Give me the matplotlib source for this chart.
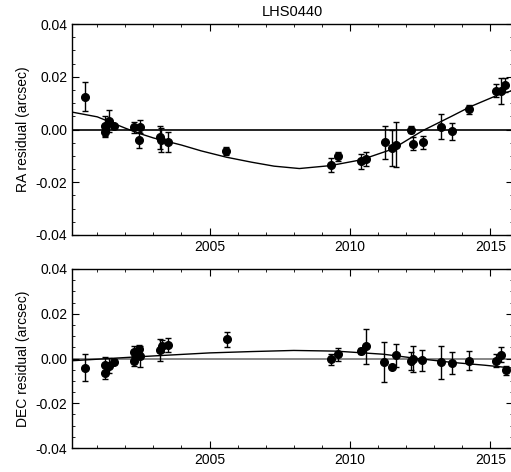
import numpy as np
import matplotlib
matplotlib.use('Agg')
import matplotlib.pyplot as plt
from matplotlib.ticker import MultipleLocator

plt.rcParams['font.family'] = ['Liberation Sans', 'DejaVu Sans']

#epochs and RA residuals (arcsec)
ra_year = [2000.57, 2001.26, 2001.26, 2001.43, 2001.60, 2002.30, 2002.48, 2002.54,
           2003.25, 2003.27, 2003.53, 2005.60, 2009.31, 2009.57, 2010.38, 2010.59,
           2011.24, 2011.50, 2011.63, 2012.19, 2012.25, 2012.59, 2013.26, 2013.63,
           2014.25, 2015.20, 2015.38, 2015.54]
ra_res = [0.0125, 0.0014, -0.0008, 0.0033, 0.0014, 0.0008, -0.0040, 0.0011,
          -0.0030, -0.0039, -0.0049, -0.0081, -0.0135, -0.0101, -0.0121, -0.0111,
          -0.0049, -0.0071, -0.0058, 0.0000, -0.0054, -0.0049, 0.0011, -0.0006,
          0.0077, 0.0147, 0.0147, 0.0170]
ra_err = [0.0055, 0.0037, 0.0020, 0.0042, 0.0008, 0.0022, 0.0030, 0.0025,
          0.0045, 0.0045, 0.0038, 0.0015, 0.0026, 0.0017, 0.0027, 0.0027,
          0.0062, 0.0068, 0.0086, 0.0015, 0.0025, 0.0024, 0.0048, 0.0032,
          0.0017, 0.0024, 0.0049, 0.0027]

#epochs and DEC residuals (arcsec)
dec_year = [2000.57, 2001.26, 2001.26, 2001.43, 2001.60, 2002.30, 2002.30, 2002.48,
            2002.54, 2003.25, 2003.29, 2003.53, 2005.63, 2009.31, 2009.57, 2010.38,
            2010.57, 2011.23, 2011.50, 2011.63, 2012.18, 2012.25, 2012.57, 2013.26,
            2013.63, 2014.25, 2015.19, 2015.37, 2015.56]
dec_res = [-0.0042, -0.0028, -0.0063, -0.0032, -0.0014, 0.0031, -0.0011, 0.0044,
           0.0010, 0.0038, 0.0056, 0.0060, 0.0086, -0.0004, 0.0019, 0.0033,
           0.0054, -0.0017, -0.0036, 0.0014, -0.0011, -0.0001, -0.0007, -0.0017,
           -0.0020, -0.0009, -0.0009, 0.0017, -0.0053]
dec_err = [0.0060, 0.0035, 0.0030, 0.0035, 0.0010, 0.0025, 0.0022, 0.0017,
           0.0047, 0.0050, 0.0025, 0.0031, 0.0033, 0.0026, 0.0029, 0.0014,
           0.0079, 0.0090, 0.0008, 0.0051, 0.0040, 0.0059, 0.0047, 0.0074,
           0.0048, 0.0042, 0.0030, 0.0033, 0.0020]

#model curves
ra_curve_year = [2000.1, 2001.0, 2002.0, 2002.5, 2003.0, 2004.0, 2004.7, 2005.6,
                 2006.5, 2007.3, 2008.2, 2009.3, 2010.4, 2011.5, 2012.6, 2013.6,
                 2014.3, 2015.3, 2015.8]
ra_curve = [0.0066, 0.0048, 0.0005, -0.0015, -0.0032, -0.0059, -0.0081, -0.0105,
            -0.0124, -0.0139, -0.0148, -0.0137, -0.0115, -0.0075, -0.0004, 0.0049,
            0.0087, 0.0132, 0.0148]
dec_curve_year = [2000.1, 2002.5, 2005.0, 2006.5, 2008.0, 2009.5, 2011.2, 2012.4,
                  2013.6, 2014.8, 2015.8]
dec_curve = [-0.0010, 0.0008, 0.0025, 0.0031, 0.0036, 0.0033, 0.0019, 0.0000,
             -0.0017, -0.0030, -0.0043]

fig = plt.figure(figsize=(5.11, 4.72), dpi=100)
ax1 = fig.add_axes([72/511, 1-235/472, 441/511, 211/472])
ax2 = fig.add_axes([72/511, 1-448/472, 441/511, 179/472])

panels = [(ax1, ra_year, ra_res, ra_err, ra_curve_year, ra_curve, 'RA residual (arcsec)', 'k'),
          (ax2, dec_year, dec_res, dec_err, dec_curve_year, dec_curve, 'DEC residual (arcsec)', '0.45')]

for ax, yr, res, err, cx, cy, lab, zc in panels:
    ax.axhline(0, color=zc, lw=1.2, zorder=1)
    ax.plot(cx, cy, color='k', lw=1, zorder=2)
    ax.errorbar(yr, res, yerr=err, fmt='o', color='k', ms=5.5, ecolor='k',
                elinewidth=1, capsize=2.5, capthick=1, zorder=3)
    ax.set_xlim(2000.1, 2015.81)
    ax.set_ylim(-0.04, 0.04)
    ax.xaxis.set_major_locator(MultipleLocator(5))
    ax.xaxis.set_minor_locator(MultipleLocator(1))
    ax.yaxis.set_major_locator(MultipleLocator(0.02))
    ax.yaxis.set_minor_locator(MultipleLocator(0.005))
    ax.yaxis.set_major_formatter(plt.FormatStrFormatter('%.2f'))
    ax.tick_params(which='both', direction='in', top=True, right=True, labelsize=10)
    ax.tick_params(which='major', length=5)
    ax.tick_params(which='minor', length=2.5)
    ax.set_ylabel(lab, fontsize=10)
    for s in ax.spines.values():
        s.set_linewidth(1)

ax1.set_title('LHS0440', fontsize=10.5, pad=6)

fig.savefig('out.png', dpi=100)
